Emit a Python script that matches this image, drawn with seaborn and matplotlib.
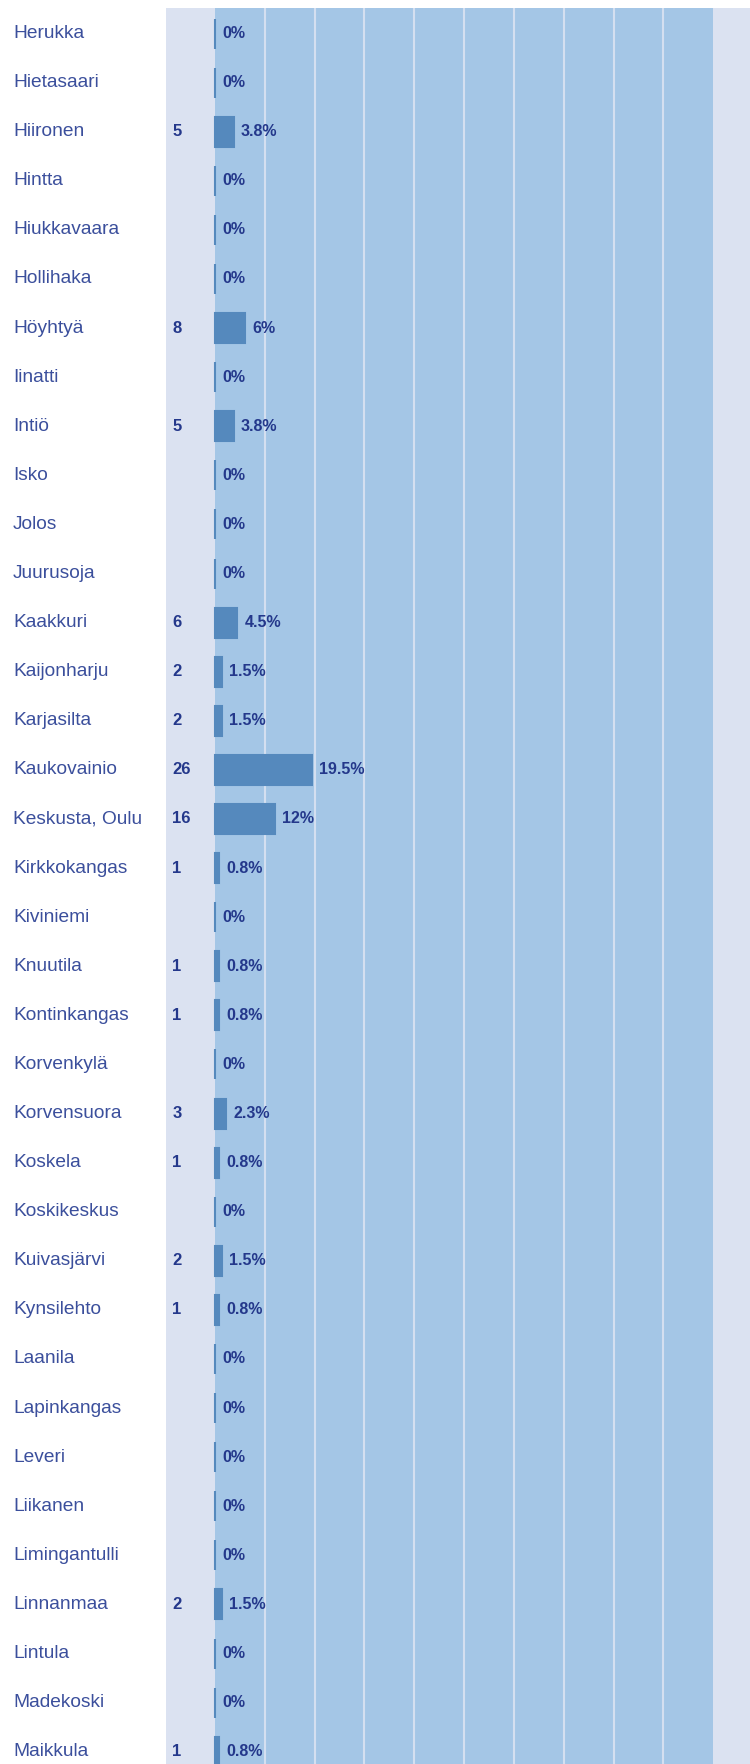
import matplotlib
matplotlib.use("Agg")
import matplotlib.pyplot as plt
import matplotlib.transforms as mtransforms
import seaborn as sns

# data
areas = [
    "Herukka", "Hietasaari", "Hiironen", "Hintta", "Hiukkavaara", "Hollihaka",
    "Höyhtyä", "Iinatti", "Intiö", "Isko", "Jolos", "Juurusoja", "Kaakkuri",
    "Kaijonharju", "Karjasilta", "Kaukovainio", "Keskusta, Oulu", "Kirkkokangas",
    "Kiviniemi", "Knuutila", "Kontinkangas", "Korvenkylä", "Korvensuora",
    "Koskela", "Koskikeskus", "Kuivasjärvi", "Kynsilehto", "Laanila",
    "Lapinkangas", "Leveri", "Liikanen", "Limingantulli", "Linnanmaa",
    "Lintula", "Madekoski", "Maikkula",
]
counts = [0, 0, 5, 0, 0, 0, 8, 0, 5, 0, 0, 0, 6, 2, 2, 26, 16, 1,
          0, 1, 1, 0, 3, 1, 0, 2, 1, 0, 0, 0, 0, 0, 2, 0, 0, 1]
percents = [0, 0, 3.8, 0, 0, 0, 6, 0, 3.8, 0, 0, 0, 4.5, 1.5, 1.5, 19.5, 12, 0.8,
            0, 0.8, 0.8, 0, 2.3, 0.8, 0, 1.5, 0.8, 0, 0, 0, 0, 0, 1.5, 0, 0, 0.8]
grid_steps = [10, 20, 30, 40, 50, 60, 70, 80, 90]

PANEL = "#dbe2f1"
FIELD = "#a4c6e6"
BAR = "#5589bd"
LABEL_COLOR = "#3b4f9c"
NUM_COLOR = "#24388b"

sns.set_style("white", {"axes.facecolor": PANEL})
plt.rcParams["font.family"] = ["Liberation Sans", "DejaVu Sans"]

fig = plt.figure(figsize=(7.5, 17.64), dpi=100, facecolor="white")
ax = fig.add_axes([166 / 750, 0.0, 1 - 166 / 750, (1764 - 8) / 1764])

# blue field 0..100 % with light separators
ax.axvspan(0, 100, color=FIELD, zorder=0, lw=0)
for g in grid_steps:
    ax.axvline(g, color="#d4dff0", lw=1.5, zorder=1)

sns.barplot(x=percents, y=areas, orient="h", color=BAR, width=0.61,
            edgecolor=BAR, linewidth=1.5, saturation=1, ax=ax, zorder=2)

label_tf = mtransforms.blended_transform_factory(fig.transFigure, ax.transData)
for i, (name, n, p) in enumerate(zip(areas, counts, percents)):
    ax.text(13 / 750, i, name, transform=label_tf, ha="left", va="center",
            fontsize=13.8, color=LABEL_COLOR, clip_on=False)
    if n:
        ax.text(-8.6, i, str(n), ha="left", va="center", fontsize=12,
                fontweight="bold", color=NUM_COLOR)
    ax.text(p + 1.4, i, f"{p:g}%", ha="left", va="center", fontsize=11.5,
            fontweight="bold", color=NUM_COLOR, zorder=3)

ax.set_xlim(-9.84, 107.4)
ax.set_ylim(35.25, -0.52)
ax.set_xlabel("")
ax.set_ylabel("")
ax.set_xticks([])
ax.set_yticks([])
sns.despine(ax=ax, left=True, bottom=True)

fig.savefig("out.png", dpi=100, facecolor="white")
plt.close(fig)
